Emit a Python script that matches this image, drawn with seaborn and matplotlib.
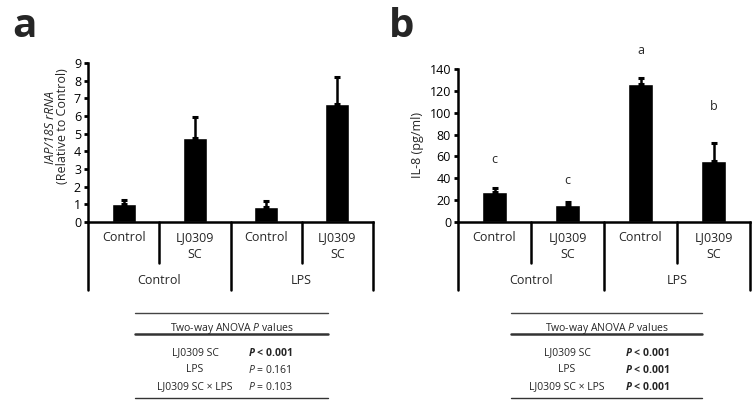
import matplotlib
matplotlib.use('Agg')
import matplotlib.pyplot as plt
import matplotlib.transforms as mtransforms
from matplotlib.lines import Line2D
import seaborn as sns
import pandas as pd

# data
groups = ['Control', 'Control', 'LPS', 'LPS']
treatments = ['Control', 'LJ0309\nSC', 'Control', 'LJ0309\nSC']
iap_mean = [1.04, 4.77, 0.85, 6.68]
iap_sem = [0.20, 1.15, 0.32, 1.50]
il8_mean = [27.5, 15.3, 126.0, 56.0]
il8_sem = [4.0, 3.0, 5.5, 16.5]
il8_letters = ['c', 'c', 'a', 'b']
il8_letter_y = [57, 38, 157, 106]
anova_terms = ['LJ0309 SC', 'LPS', 'LJ0309 SC \u00d7 LPS']
anova_a = [('<', '0.001'), ('=', '0.161'), ('=', '0.103')]
anova_b = [('<', '0.001'), ('<', '0.001'), ('<', '0.001')]

FONT = 'Open Sans'
sns.set_style('ticks')
plt.rcParams['font.family'] = [FONT, 'DejaVu Sans']
plt.rcParams['mathtext.fontset'] = 'custom'
plt.rcParams['mathtext.rm'] = FONT
plt.rcParams['mathtext.it'] = FONT + ':italic'
plt.rcParams['mathtext.bf'] = FONT + ':bold'
plt.rcParams['mathtext.bfit'] = FONT + ':bold:italic'

FS = 9
FS_TAB = 7.5

W, H = 753, 408
fig = plt.figure(figsize=(W / 100, H / 100), dpi=100)


def fx(px):
    return px / W


def fy(py):
    return 1 - py / H


def bar_panel(rect, means, sems, ymax, ystep):
    ax = fig.add_axes(rect)
    df = pd.DataFrame({
        'key': [g + '|' + t for g, t in zip(groups, treatments)],
        'mean': means,
    })
    sns.barplot(data=df, x='key', y='mean', color='black', saturation=1,
                width=0.34, errorbar=None, ax=ax)
    pos = list(range(len(means)))
    ax.errorbar(pos, means, yerr=[[0] * len(sems), sems], fmt='none',
                ecolor='black', elinewidth=1.8, capsize=2.2, capthick=2.2)
    ax.set_xlim(-0.5, len(means) - 0.5)
    ax.set_ylim(0, ymax)
    ax.set_yticks(range(0, ymax + 1, ystep))
    ax.set_xticks([])
    ax.set_xlabel('')
    ax.set_ylabel('')
    for s in ['top', 'right']:
        ax.spines[s].set_visible(False)
    for s in ['left', 'bottom']:
        ax.spines[s].set_linewidth(1.8)
        ax.spines[s].set_color('black')
    ax.tick_params(axis='y', direction='out', length=3, width=2,
                   labelsize=FS, pad=2, colors='black')

    # Excel-style multi-level category axis
    trans = mtransforms.blended_transform_factory(ax.transData, fig.transFigure)
    n = len(treatments)
    for i in range(n + 1):
        outer = i == 0 or i == n or groups[i - 1] != groups[i]
        bottom = 290 if outer else 263
        ax.add_line(Line2D([i - 0.5, i - 0.5], [fy(222), fy(bottom)],
                           transform=trans, color='black', lw=1.8,
                           clip_on=False))
    for i, t in enumerate(treatments):
        ax.text(i, fy(231), t, transform=trans, ha='center', va='top',
                fontsize=FS, linespacing=1.35)
    for g in dict.fromkeys(groups):
        idx = [i for i, gg in enumerate(groups) if gg == g]
        ax.text(sum(idx) / len(idx), fy(281), g, transform=trans,
                ha='center', va='center', fontsize=FS)
    return ax


def anova_table(x0, x1, xc, xp, rows):
    fig.add_artist(Line2D([fx(x0), fx(x1)], [fy(312.5), fy(312.5)],
                          color='#444444', lw=1.0))
    fig.add_artist(Line2D([fx(x0), fx(x1)], [fy(334), fy(334)],
                          color='#333333', lw=1.8))
    fig.add_artist(Line2D([fx(x0), fx(x1)], [fy(398), fy(398)],
                          color='#333333', lw=1.0))
    fig.text(fx((x0 + x1) / 2), fy(331.5), r'Two-way ANOVA $\it{P}$ values',
             ha='center', va='baseline', fontsize=FS_TAB)
    for k, (term, (op, val)) in enumerate(zip(anova_terms, rows)):
        y = fy([353, 370, 387][k])
        fig.text(fx(xc), y, term, ha='center', va='center', fontsize=FS_TAB)
        if op == '<':
            fig.text(fx(xp), y, r'$\mathbfit{P}$ ' + op + ' ' + val,
                     ha='left', va='center', fontsize=FS_TAB, fontweight='bold')
        else:
            fig.text(fx(xp), y, r'$\it{P}$ ' + op + ' ' + val,
                     ha='left', va='center', fontsize=FS_TAB)


# panel a
ax_a = bar_panel([fx(88), fy(222), (373 - 88) / W, (222 - 63) / H],
                 iap_mean, iap_sem, 9, 1)
fig.text(fx(51), fy(128), 'IAP/18S rRNA', rotation=90, ha='center',
         va='center', fontsize=FS, style='italic')
fig.text(fx(63), fy(126), '(Relative to Control)', rotation=90,
         ha='center', va='center', fontsize=FS)
fig.text(fx(12), fy(37), 'a', fontsize=29, fontweight='bold', va='baseline')

# panel b
ax_b = bar_panel([fx(458), fy(222), (750 - 458) / W, (222 - 69) / H],
                 il8_mean, il8_sem, 140, 20)
ax_b.set_ylabel('IL-8 (pg/ml)', fontsize=FS, labelpad=4)
for i, (lab, ly) in enumerate(zip(il8_letters, il8_letter_y)):
    ax_b.text(i, ly, lab, ha='center', va='center', fontsize=FS,
              clip_on=False)
fig.text(fx(389), fy(37), 'b', fontsize=29, fontweight='bold', va='baseline')

anova_table(135, 328, 195, 248, anova_a)
anova_table(511, 702, 567, 625, anova_b)

fig.savefig('out.png', dpi=100)
